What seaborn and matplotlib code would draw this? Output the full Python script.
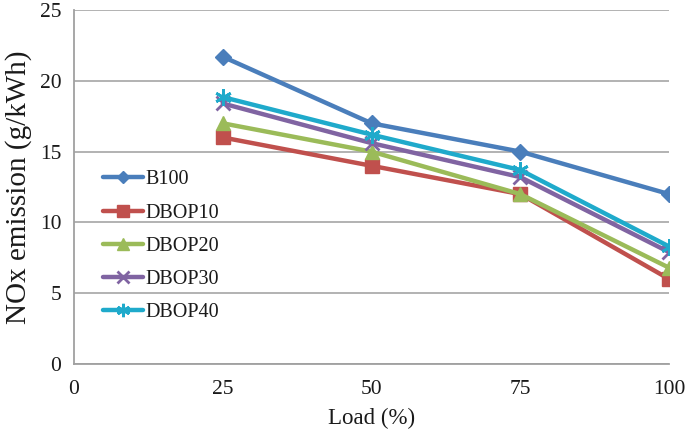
import numpy as np
import pandas as pd
import matplotlib
matplotlib.use("Agg")
import matplotlib.pyplot as plt
import seaborn as sns
from matplotlib.ticker import MultipleLocator

loads = [25, 50, 75, 100]
b100 = [21.7, 17.0, 15.0, 12.0]
dbop10 = [16.0, 14.0, 12.0, 6.0]
dbop20 = [17.0, 15.0, 12.0, 6.8]
dbop30 = [18.4, 15.6, 13.2, 7.9]
dbop40 = [18.85, 16.2, 13.7, 8.3]
series_names = ["B100", "DBOP10", "DBOP20", "DBOP30", "DBOP40"]
x_ticks = [0, 25, 50, 75, 100]
y_ticks = [0, 5, 10, 15, 20, 25]

sns.set_theme(style="white")
plt.rcParams["font.family"] = ["Liberation Serif", "DejaVu Serif"]

rows = []
for name, vals in zip(series_names, [b100, dbop10, dbop20, dbop30, dbop40]):
    for l, v in zip(loads, vals):
        rows.append({"Load": l, "NOx": v, "Series": name})
df = pd.DataFrame(rows)

colors = {"B100": "#4A7EBB", "DBOP10": "#C0504D", "DBOP20": "#9BBB59",
          "DBOP30": "#8064A2", "DBOP40": "#1FAACB"}
markers = {"B100": "D", "DBOP10": "s", "DBOP20": "^", "DBOP30": "x",
           "DBOP40": (6, 2, 0)}
msize = {"B100": 8, "DBOP10": 10, "DBOP20": 10, "DBOP30": 10, "DBOP40": 12}

fig = plt.figure(figsize=(6.85, 4.34), dpi=100)
ax = fig.add_axes([0.108, 0.161, 0.869, 0.816])

for name in series_names:
    sub = df[df["Series"] == name]
    sns.lineplot(data=sub, x="Load", y="NOx", ax=ax, color=colors[name],
                 marker=markers[name], markersize=msize[name], linewidth=3.2,
                 markeredgecolor=colors[name], markeredgewidth=2 if name in ("DBOP30", "DBOP40") else 1,
                 label=name, zorder=3)

ax.set_xlim(0, 100)
ax.set_ylim(0, 25)
ax.set_xticks(x_ticks)
ax.set_yticks(y_ticks)
ax.xaxis.set_minor_locator(MultipleLocator(5))
ax.yaxis.set_minor_locator(MultipleLocator(1))
ax.grid(axis="y", color="#A6A6A6", linewidth=1.2)
ax.grid(axis="x", visible=False)
ax.set_axisbelow(True)
for s in ["top", "right"]:
    ax.spines[s].set_visible(False)
for s in ["left", "bottom"]:
    ax.spines[s].set_color("#A0A0A0")
    ax.spines[s].set_linewidth(1.3)
ax.tick_params(axis="both", which="both", color="#A0A0A0", width=1.2)
ax.tick_params(axis="y", which="major", direction="out", length=5)
ax.tick_params(axis="y", which="minor", direction="inout", length=8)
ax.tick_params(axis="x", which="both", direction="inout", length=9)
ax.tick_params(axis="both", which="major", labelsize=15.5, labelcolor="#1a1a1a", pad=4)
ax.tick_params(axis="x", which="major", pad=7)

ax.set_xlabel("Load (%)", fontsize=16.5, color="#1a1a1a", labelpad=6)
ax.set_ylabel("NOx emission (g/kWh)", fontsize=21, color="#1a1a1a", labelpad=6)

leg = ax.legend(loc="upper left", bbox_to_anchor=(0.035, 0.57), frameon=False,
                fontsize=14.5, handlelength=2.0, handletextpad=0.1,
                labelspacing=0.7, borderaxespad=0, markerscale=0.8)
for t in leg.get_texts():
    t.set_color("#1a1a1a")

fig.savefig("out.png", dpi=100)
